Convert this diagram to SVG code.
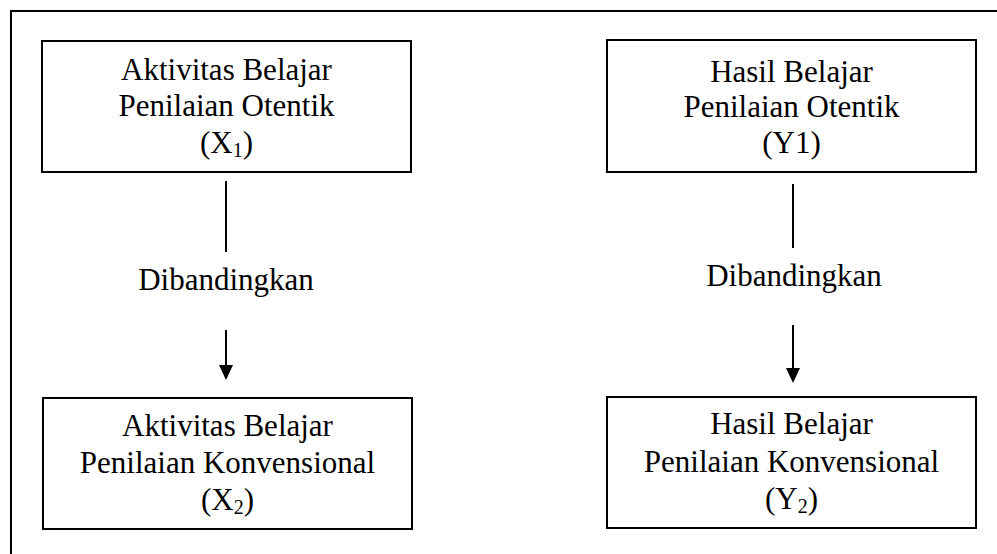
<svg xmlns="http://www.w3.org/2000/svg" width="997" height="554" viewBox="0 0 997 554">
<style>
.box{fill:#fff;stroke:#000;stroke-width:2}
.t{font-family:'Liberation Serif',Tinos,'Times New Roman','DejaVu Serif',serif;font-size:31px;fill:#000;text-anchor:middle}
.sub{font-size:20px}
.ln{stroke:#000;stroke-width:2;fill:none}
.ah{fill:#000}
</style>
<rect width="997" height="554" fill="#fff"/>
<path id="frame" d="M11,554 V11 H997" fill="none" stroke="#000" stroke-width="2"/>
<g id="x1">
<rect class="box" x="42" y="41" width="369" height="131"/>
<text class="t" x="226.5" y="80">Aktivitas Belajar</text>
<text class="t" x="226.5" y="116">Penilaian Otentik</text>
<text class="t" x="226.5" y="153">(X<tspan class="sub" dy="4">1</tspan><tspan dy="-4">)</tspan></text>
</g>
<g id="y1">
<rect class="box" x="607" y="40" width="369" height="132"/>
<text class="t" x="791.5" y="82">Hasil Belajar</text>
<text class="t" x="791.5" y="117">Penilaian Otentik</text>
<text class="t" x="791.5" y="153">(Y1)</text>
</g>
<g id="x2">
<rect class="box" x="43" y="398" width="369" height="131"/>
<text class="t" x="227.5" y="436">Aktivitas Belajar</text>
<text class="t" x="227.5" y="473">Penilaian Konvensional</text>
<text class="t" x="227.5" y="510">(X<tspan class="sub" dy="4">2</tspan><tspan dy="-4">)</tspan></text>
</g>
<g id="y2">
<rect class="box" x="607" y="397" width="369" height="131"/>
<text class="t" x="791.5" y="434">Hasil Belajar</text>
<text class="t" x="791.5" y="472">Penilaian Konvensional</text>
<text class="t" x="791.5" y="509">(Y<tspan class="sub" dy="4">2</tspan><tspan dy="-4">)</tspan></text>
</g>
<g id="connectors">
<line class="ln" x1="226" y1="181" x2="226" y2="252"/>
<text class="t" x="226" y="290">Dibandingkan</text>
<line class="ln" x1="226" y1="330" x2="226" y2="366"/>
<polygon class="ah" points="219,365 233,365 226,380"/>
<line class="ln" x1="793" y1="184" x2="793" y2="248"/>
<text class="t" x="794" y="286">Dibandingkan</text>
<line class="ln" x1="793" y1="325" x2="793" y2="369"/>
<polygon class="ah" points="786,368 800,368 793,383"/>
</g>
</svg>
